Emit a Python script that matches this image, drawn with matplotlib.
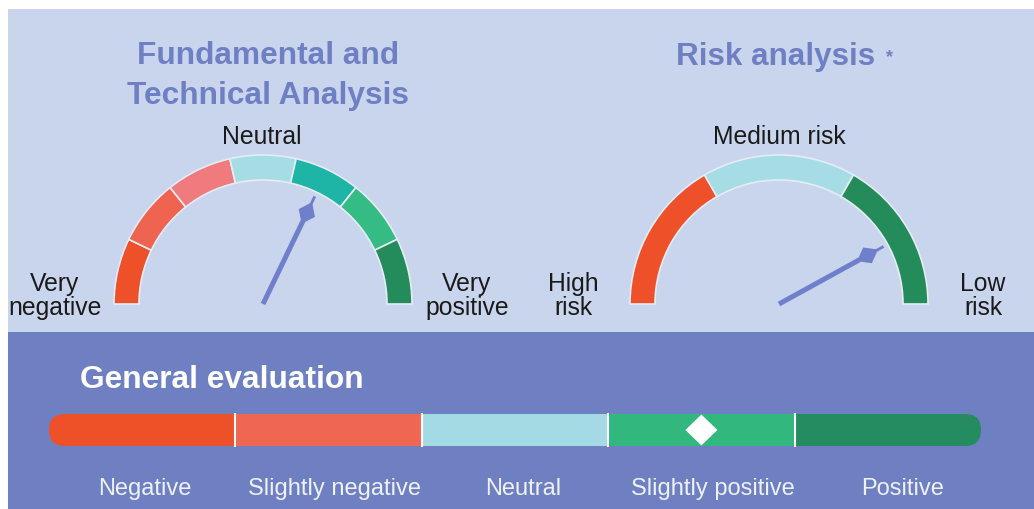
import numpy as np
import matplotlib.pyplot as plt
from matplotlib.patches import Wedge, Rectangle, FancyBboxPatch, Polygon

plt.rcParams["font.family"] = ["Liberation Sans", "DejaVu Sans"]

# gauge 1: fundamental / technical
fund_colors = ["#ee5129", "#ef6450", "#ef7b7e", "#a6dde4", "#1fb5a6", "#35bc84", "#248b5a"]
fund_value = 4.5          # on a 0..7 scale
fund_labels = ["Very\nnegative", "Neutral", "Very\npositive"]

# gauge 2: risk
risk_colors = ["#ee5129", "#a6dde4", "#248b5a"]
risk_value = 2.52         # on a 0..3 scale
risk_labels = ["High\nrisk", "Medium risk", "Low\nrisk"]

# general evaluation bar
eval_cats = ["Negative", "Slightly negative", "Neutral", "Slightly positive", "Positive"]
eval_colors = ["#ee5127", "#ef6653", "#a4dae4", "#32b77e", "#258c5f"]
eval_value = 3.5          # on a 0..5 scale

panel_light = "#c8d5ec"
panel_dark = "#6e80c1"
needle_col = "#6f7fcb"
title_col = "#6f7fc4"

fig = plt.figure(figsize=(10.34, 5.10), dpi=100)
ax = fig.add_axes([0, 0, 1, 1])
ax.set_xlim(0, 1034)
ax.set_ylim(0, 510)
ax.axis("off")

ax.add_patch(Rectangle((8, 177), 1026, 323, color=panel_light, lw=0))
ax.add_patch(Rectangle((8, 0), 1026, 177, color=panel_dark, lw=0))


def gauge(cx, cy, colors, value, r=149, w=25):
    n = len(colors)
    step = 180.0 / n
    for i, c in enumerate(colors):
        t2 = 180 - i * step
        t1 = t2 - step
        ax.add_patch(Wedge((cx, cy), r, t1, t2, width=w, facecolor=c,
                           edgecolor="#e6ecf5", lw=1.2))
    ang = np.radians(180 - value / n * 180)
    ux, uy = np.cos(ang), np.sin(ang)
    px, py = -uy, ux
    ax.plot([cx, cx + 92 * ux], [cy, cy + 92 * uy], color=needle_col, lw=3.6,
            solid_capstyle="butt")
    ax.plot([cx + 100 * ux, cx + 118 * ux], [cy + 100 * uy, cy + 118 * uy],
            color=needle_col, lw=2.0)
    d = 101
    pts = [(cx + (d - 12) * ux, cy + (d - 12) * uy),
           (cx + d * ux + 9 * px, cy + d * uy + 9 * py),
           (cx + (d + 12) * ux, cy + (d + 12) * uy),
           (cx + d * ux - 9 * px, cy + d * uy - 9 * py)]
    ax.add_patch(Polygon(pts, closed=True, color=needle_col, lw=0))


gauge(263, 205, fund_colors, fund_value)
gauge(779, 205, risk_colors, risk_value)

ax.text(268, 434, "Fundamental and\nTechnical Analysis", ha="center", va="center",
        fontsize=22.8, fontweight="bold", color=title_col, linespacing=1.42)
ax.text(776, 453, "Risk analysis", ha="center", va="center",
        fontsize=22.6, fontweight="bold", color=title_col)
ax.text(890, 452, "*", ha="center", va="center", fontsize=13,
        fontweight="bold", color=title_col)

lab_kw = dict(ha="center", va="center", fontsize=17.8, color="#1a1a1a", linespacing=1.0)
ax.text(55, 214, fund_labels[0], **lab_kw)
ax.text(262, 373, fund_labels[1], **lab_kw)
ax.text(467, 214, fund_labels[2], **lab_kw)
ax.text(573, 214, risk_labels[0], **lab_kw)
ax.text(779, 373, risk_labels[1], **lab_kw)
ax.text(983, 214, risk_labels[2], **lab_kw)

# general evaluation
ax.text(80, 130, "General evaluation", ha="left", va="center", fontsize=22.8,
        fontweight="bold", color="white")

x0, x1, y0, h = 49, 981, 63, 32
seg = (x1 - x0) / len(eval_cats)
clip = FancyBboxPatch((x0, y0), x1 - x0, h, boxstyle="round,pad=0,rounding_size=16",
                      facecolor="none", edgecolor="none")
ax.add_patch(clip)
for i, (cat, c) in enumerate(zip(eval_cats, eval_colors)):
    r = Rectangle((x0 + i * seg, y0), seg, h, facecolor=c, lw=0)
    ax.add_patch(r)
    r.set_clip_path(clip)
    if i > 0:
        ax.plot([x0 + i * seg] * 2, [y0, y0 + h], color="white", lw=1.5)
    ax.text(144.5 + i * 189.5, 21, cat, ha="center", va="center",
            fontsize=17, color="#eef1fa")

mx = x0 + eval_value * seg
my = y0 + h / 2
ax.add_patch(Polygon([(mx - 16, my), (mx, my + 15.5), (mx + 16, my), (mx, my - 15.5)],
                     closed=True, color="white", lw=0))

fig.savefig("out.png", dpi=100)
